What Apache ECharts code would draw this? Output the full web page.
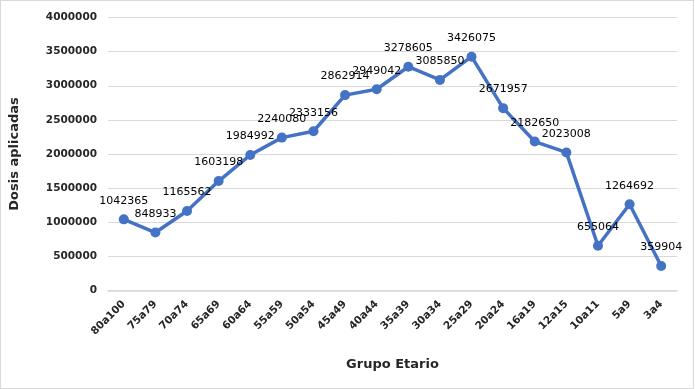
<!DOCTYPE html>
<html><head><meta charset="utf-8">
<script src="https://cdn.jsdelivr.net/npm/echarts@6/dist/echarts.min.js"></script>
<style>
html,body{margin:0;padding:0;background:#fff;}
#frame{position:absolute;left:0;top:0;width:692px;height:387px;border:1px solid #d9d9d9;}
#c{position:absolute;left:0;top:0;width:695px;height:389px;}
</style></head>
<body>
<div id="frame"></div>
<div id="c"></div>
<script>
const categories = ["80a100","75a79","70a74","65a69","60a64","55a59","50a54","45a49","40a44","35a39","30a34","25a29","20a24","16a19","12a15","10a11","5a9","3a4"];
const dosis = [1042365,848933,1165562,1603198,1984992,2240080,2333156,2862914,2949042,3278605,3085850,3426075,2671957,2182650,2023008,655064,1264692,359904];
const yTicks = {min:0, max:4000000, interval:500000};

const chart = echarts.init(document.getElementById('c'));
chart.setOption({
  animation:false,
  grid:{left:108, right:18, top:17.5, bottom:98.5},
  xAxis:{
    type:'category', data:categories, boundaryGap:true,
    name:'Grupo Etario', nameLocation:'middle', nameGap:68,
    nameTextStyle:{fontFamily:'DejaVu Sans', fontWeight:'bold', fontSize:13, color:'#262626'},
    axisLine:{lineStyle:{color:'#d9d9d9', width:1.5}},
    axisTick:{show:false},
    axisLabel:{rotate:45, margin:12, interval:0, fontFamily:'DejaVu Sans', fontWeight:'bold', fontSize:10.5, color:'#262626'}
  },
  yAxis:{
    type:'value', min:yTicks.min, max:yTicks.max, interval:yTicks.interval,
    name:'Dosis aplicadas', nameLocation:'middle', nameGap:87,
    nameTextStyle:{fontFamily:'DejaVu Sans', fontWeight:'bold', fontSize:13, color:'#262626'},
    axisLine:{show:false}, axisTick:{show:false},
    splitLine:{lineStyle:{color:'#d9d9d9', width:1}},
    axisLabel:{margin:11, formatter:v=>String(v), fontFamily:'DejaVu Sans', fontWeight:'bold', fontSize:10.5, color:'#262626'}
  },
  series:[{
    type:'line', data:dosis,
    symbol:'circle', symbolSize:10,
    lineStyle:{color:'#4472C4', width:3.5},
    itemStyle:{color:'#4472C4'},
    label:{show:true, position:'top', distance:8, fontFamily:'DejaVu Sans', fontSize:11, color:'#000'}
  }]
});
</script>
</body></html>
